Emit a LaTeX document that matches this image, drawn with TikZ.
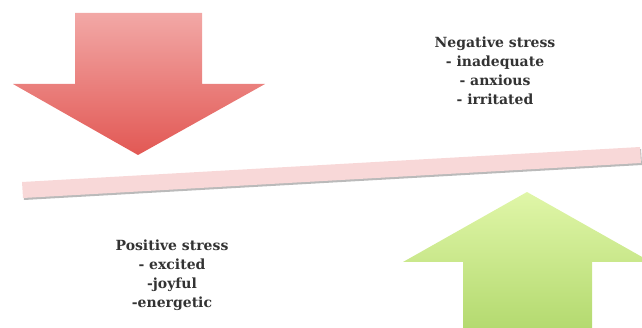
\documentclass[tikz,border=0pt]{standalone}
\usepackage{fontspec}
\setmainfont{DejaVu Serif}
\usetikzlibrary{positioning,shadows}

\definecolor{redtop}{RGB}{242,168,166}
\definecolor{redbottom}{RGB}{226,88,84}
\definecolor{greentop}{RGB}{224,246,168}
\definecolor{greenbottom}{RGB}{180,218,112}
\definecolor{barpink}{RGB}{248,216,216}

\tikzset{
  label text/.style={align=center, font=\fontsize{14}{19}\selectfont\bfseries, text=black!80, inner sep=0pt},
  red arrow/.style={top color=redtop, bottom color=redbottom, draw=none},
  green arrow/.style={top color=greentop, bottom color=greenbottom, draw=none},
  balance bar/.style={fill=barpink, draw=none, drop shadow={shadow xshift=1pt, shadow yshift=-2pt, fill=black!45, opacity=0.6}}
}

\begin{document}
\begin{tikzpicture}[x=1pt, y=-1pt]
  \useasboundingbox (0,0) rectangle (642,328);
  % down arrow
  \path[red arrow] (75,13) -- (202,13) -- (202,84) -- (265,84) -- (138,155) -- (13,84) -- (75,84) -- cycle;
  % bar
  \path[balance bar] (22,182) -- (640,147) -- (641,163) -- (23,198) -- cycle;
  % up arrow
  \begin{scope}
    \clip (0,0) rectangle (642,328);
    \path[green arrow] (463,328) -- (463,262) -- (403,262) -- (527,192) -- (651,262) -- (592,262) -- (592,328) -- cycle;
  \end{scope}
  % labels
  \node[label text] (negative) at (495,71) {Negative stress\\- inadequate\\- anxious\\- irritated};
  \node[label text] (positive) at (172,275) {Positive stress\\- excited\\-joyful\\-energetic};
\end{tikzpicture}
\end{document}
